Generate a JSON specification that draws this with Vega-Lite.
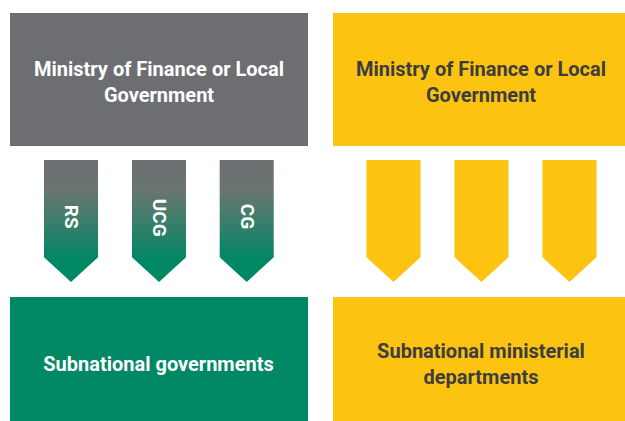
{
  "$schema": "https://vega.github.io/schema/vega-lite/v6.json",
  "width": 625,
  "height": 421,
  "padding": 0,
  "autosize": {"type": "fit", "contains": "padding"},
  "background": "white",
  "view": {"stroke": null},
  "config": {"axis": {"disable": true}, "legend": {"disable": true}},
  "datasets": {
    "boxes": [
      {"id": "top_left", "kind": "gray", "x0": 10, "x1": 308, "y0": 13, "y1": 146, "cx": 159, "cy": 69.5, "label": "Ministry of Finance or Local\nGovernment", "tone": "light"},
      {"id": "top_right", "kind": "yellow", "x0": 333, "x1": 625, "y0": 13, "y1": 146, "cx": 481, "cy": 69.5, "label": "Ministry of Finance or Local\nGovernment", "tone": "dark"},
      {"id": "bottom_left", "kind": "green", "x0": 10, "x1": 308, "y0": 297, "y1": 421, "cx": 158.5, "cy": 365, "label": "Subnational governments", "tone": "light"},
      {"id": "bottom_right", "kind": "yellow", "x0": 333, "x1": 625, "y0": 297, "y1": 421, "cx": 481, "cy": 352, "label": "Subnational ministerial\ndepartments", "tone": "dark"}
    ],
    "arrowsLeft": [
      {"label": "RS", "cx": 71, "cy": 221, "ly": 216.7},
      {"label": "UCG", "cx": 159, "cy": 221, "ly": 217.8},
      {"label": "CG", "cx": 246.7, "cy": 221, "ly": 216.5}
    ],
    "arrowsRight": [
      {"label": "", "cx": 393.5, "cy": 221},
      {"label": "", "cx": 481.5, "cy": 221},
      {"label": "", "cx": 569.5, "cy": 221}
    ]
  },
  "layer": [
    {
      "data": {"name": "boxes"},
      "mark": {"type": "rect"},
      "encoding": {
        "x": {"field": "x0", "type": "quantitative", "scale": {"domain": [0, 625], "nice": false, "zero": false}},
        "x2": {"field": "x1"},
        "y": {"field": "y0", "type": "quantitative", "scale": {"domain": [0, 421], "nice": false, "zero": false, "reverse": true}},
        "y2": {"field": "y1"},
        "color": {"field": "kind", "type": "nominal", "scale": {"domain": ["gray", "green", "yellow"], "range": ["#6d6e71", "#008764", "#fdc311"]}}
      }
    },
    {
      "data": {"name": "arrowsLeft"},
      "mark": {
        "type": "point",
        "filled": true,
        "opacity": 1,
        "strokeWidth": 0,
        "size": 14884,
        "shape": "M-0.443,-1L0.443,-1L0.443,0.595L0,1L-0.443,0.595Z",
        "color": {"gradient": "linear", "x1": 0, "y1": 0, "x2": 0, "y2": 1, "stops": [{"offset": 0, "color": "#6d6e71"}, {"offset": 0.25, "color": "#6a7670"}, {"offset": 0.82, "color": "#008764"}, {"offset": 1, "color": "#008764"}]}
      },
      "encoding": {
        "x": {"field": "cx", "type": "quantitative"},
        "y": {"field": "cy", "type": "quantitative"}
      }
    },
    {
      "data": {"name": "arrowsRight"},
      "mark": {
        "type": "point",
        "filled": true,
        "opacity": 1,
        "strokeWidth": 0,
        "size": 14884,
        "shape": "M-0.443,-1L0.443,-1L0.443,0.595L0,1L-0.443,0.595Z",
        "color": "#fdc311"
      },
      "encoding": {
        "x": {"field": "cx", "type": "quantitative"},
        "y": {"field": "cy", "type": "quantitative"}
      }
    },
    {
      "data": {"name": "arrowsLeft"},
      "mark": {"type": "text", "angle": 90, "font": "Roboto", "fontWeight": "bold", "fontSize": 19, "color": "white", "align": "center", "baseline": "middle"},
      "encoding": {
        "x": {"field": "cx", "type": "quantitative"},
        "y": {"field": "ly", "type": "quantitative"},
        "text": {"field": "label"}
      }
    },
    {
      "data": {"name": "boxes"},
      "mark": {"type": "text", "font": "Roboto", "fontWeight": "bold", "fontSize": 20, "lineBreak": "\n", "lineHeight": 26, "align": "center", "baseline": "middle"},
      "encoding": {
        "x": {"field": "cx", "type": "quantitative"},
        "y": {"field": "cy", "type": "quantitative"},
        "text": {"field": "label"},
        "color": {"field": "tone", "type": "nominal", "scale": {"domain": ["light", "dark"], "range": ["#ffffff", "#3d3d3f"]}}
      }
    }
  ],
  "resolve": {"scale": {"color": "independent"}}
}
